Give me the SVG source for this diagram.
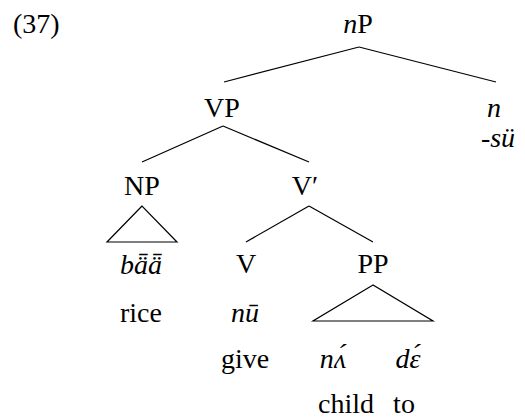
<svg xmlns="http://www.w3.org/2000/svg" width="525" height="418" viewBox="0 0 525 418">
<style>
text{font-family:"Liberation Serif","Times New Roman",serif;font-size:28px;fill:#000;text-anchor:middle}
.i{font-style:italic}
.e{stroke:#000;stroke-width:1.2;fill:none}
</style>
<rect width="525" height="418" fill="#fff"/>
<text x="13" y="33" style="text-anchor:start">(37)</text>
<g id="nP"><text x="358" y="33"><tspan class="i">n</tspan>P</text></g>
<g id="VP"><text x="222" y="117">VP</text></g>
<g id="n"><text class="i" x="494" y="117">n</text><text class="i" x="498" y="147">-sü</text></g>
<g id="NP"><text x="142" y="195">NP</text><polygon class="e" points="142,206 107,242 177,242"/><text class="i" x="141" y="274">bǟǟ</text><text x="141" y="322">rice</text></g>
<g id="Vbar"><text x="305" y="195">V′</text></g>
<g id="V"><text x="246" y="273">V</text><text class="i" x="245" y="322">nū</text><text x="245" y="368">give</text></g>
<g id="PP"><text x="373" y="273">PP</text><polygon class="e" points="373,285 313,321 433,321"/><text class="i" x="333" y="368">nʌ́</text><text class="i" x="408" y="368">dɛ́</text><text x="346" y="413">child</text><text x="404" y="413">to</text></g>
<g id="connectors" class="e">
<line x1="359" y1="47" x2="224" y2="82"/>
<line x1="359" y1="47" x2="496" y2="82"/>
<line x1="223" y1="126" x2="142" y2="162"/>
<line x1="223" y1="126" x2="309" y2="162"/>
<line x1="309" y1="206" x2="246" y2="242"/>
<line x1="309" y1="206" x2="373" y2="242"/>
</g>
</svg>
